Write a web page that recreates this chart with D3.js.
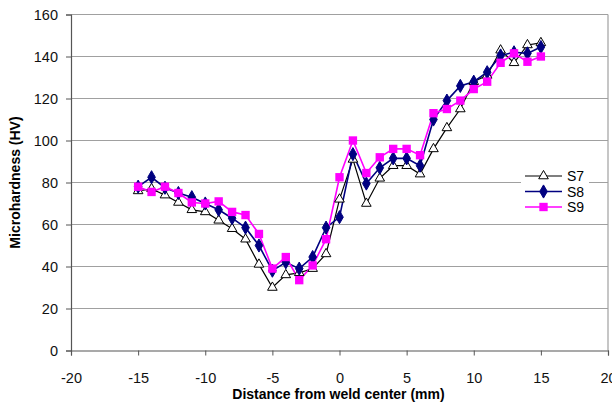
<!DOCTYPE html>
<html>
<head>
<meta charset="utf-8">
<script src="https://cdn.jsdelivr.net/npm/d3@7"></script>
<style>
  body { margin: 0; background: #fff; }
  text { font-family: "Liberation Sans", Arial, sans-serif; }
</style>
</head>
<body>
<svg id="chart" width="612" height="405"></svg>
<script>
// data
var distance = [-15,-14,-13,-12,-11,-10,-9,-8,-7,-6,-5,-4,-3,-2,-1,0,1,2,3,4,5,6,7,8,9,10,11,12,13,14,15];
var s7 = [76,77,74,70.5,67,66,62,58,53,41,30,36,37,39,46,72,91,70,82,88,88,84,96,106,115,128,131,143,137,145.5,146.5];
var s8 = [78,82.5,77.5,75,73,70,67,63,58.5,50,38,42,39,44.5,58.5,63.5,93.5,79.5,87,91.5,91.5,88,110,119,126,128,132.5,140.5,142,141.5,144.5];
var s9 = [78,75.5,78,75,70.5,70,71,66,64.5,55.5,39,44.5,33.5,40.5,53,82.5,100,84.5,92,96,96,93,113,115,119,124.5,128,137,141.5,137.5,140];
var xTicks = [-20,-15,-10,-5,0,5,10,15,20];
var yTicks = [0,20,40,60,80,100,120,140,160];
var seriesNames = ["S7","S8","S9"];

function draw(){
  var svg = d3.select("#chart");
  var left = 71, right = 608, top = 14.5, bottom = 350.5;

  var x = d3.scaleLinear().domain([-20,20]).range([left,right]);
  var y = d3.scaleLinear().domain([0,160]).range([bottom,top]);

  // gridlines
  svg.append("g").selectAll("line").data(yTicks.slice(1)).enter().append("line")
    .attr("x1", left).attr("x2", right)
    .attr("y1", function(d){ return y(d); }).attr("y2", function(d){ return y(d); })
    .attr("stroke", "#a0a0a0").attr("stroke-width", 1.2);

  // right border of plot area
  svg.append("line").attr("x1", right).attr("x2", right).attr("y1", top).attr("y2", bottom)
    .attr("stroke", "#a0a0a0").attr("stroke-width", 1.2);

  // axes (plain hyphen for negatives, like the original)
  var fmt = function(d){ return String(d); };
  var yAxis = d3.axisLeft(y).tickValues(yTicks).tickSize(5).tickPadding(8).tickFormat(fmt);
  var gy = svg.append("g").attr("transform", "translate(" + left + ",0)").call(yAxis);
  var xAxis = d3.axisBottom(x).tickValues(xTicks).tickSize(5).tickPadding(17).tickFormat(fmt);
  var gx = svg.append("g").attr("transform", "translate(0," + bottom + ")").call(xAxis);
  [gx, gy].forEach(function(g){
    g.select(".domain").attr("stroke", "#555").attr("stroke-width", 1.2);
    g.selectAll(".tick line").attr("stroke", "#555");
    g.selectAll(".tick text").attr("font-size", 14.5).attr("fill", "#111")
      .style("font-family", "'Liberation Sans', Arial, sans-serif");
  });

  // axis titles
  svg.append("text").attr("x", (left + right) / 2 - 1).attr("y", 399)
    .attr("text-anchor", "middle").attr("font-size", 14).attr("font-weight", "bold")
    .text("Distance from weld center (mm)");
  svg.append("text").attr("transform", "translate(20," + ((top + bottom) / 2) + ") rotate(-90)")
    .attr("text-anchor", "middle").attr("font-size", 14).attr("font-weight", "bold")
    .text("Microhardness (HV)");

  var line = d3.line().x(function(d){ return x(d[0]); }).y(function(d){ return y(d[1]); });
  var tri = d3.symbol().type(d3.symbolTriangle).size(40);
  var dia = d3.symbol().type(d3.symbolDiamond).size(50);
  var sq = d3.symbol().type(d3.symbolSquare).size(70);

  var series = [
    {name: seriesNames[0], vals: s7, color: "#000000", width: 1.2, sym: tri, fill: "#ffffff", stroke: "#000000"},
    {name: seriesNames[1], vals: s8, color: "#000080", width: 1.6, sym: dia, fill: "#000080", stroke: "#000080"},
    {name: seriesNames[2], vals: s9, color: "#ff00ff", width: 1.6, sym: sq, fill: "#ff00ff", stroke: "none"}
  ];

  series.forEach(function(s){
    var pts = distance.map(function(d, i){ return [d, s.vals[i]]; });
    svg.append("path").datum(pts).attr("d", line)
      .attr("fill", "none").attr("stroke", s.color).attr("stroke-width", s.width);
  });
  // markers drawn after lines, last series on top
  series.forEach(function(s){
    var pts = distance.map(function(d, i){ return [d, s.vals[i]]; });
    svg.append("g").selectAll("path").data(pts).enter().append("path")
      .attr("d", s.sym)
      .attr("transform", function(d){ return "translate(" + x(d[0]) + "," + y(d[1]) + ")"; })
      .attr("fill", s.fill).attr("stroke", s.stroke).attr("stroke-width", 1);
  });

  // legend
  var lg = svg.append("g").attr("transform", "translate(521,165)");
  lg.append("rect").attr("width", 68).attr("height", 53).attr("fill", "#fff");
  series.forEach(function(s, i){
    var yy = 11 + i * 15.5;
    lg.append("line").attr("x1", 4).attr("x2", 41).attr("y1", yy).attr("y2", yy)
      .attr("stroke", s.color).attr("stroke-width", s.width);
    lg.append("path").attr("d", s.sym).attr("transform", "translate(22.5," + yy + ")")
      .attr("fill", s.fill).attr("stroke", s.stroke).attr("stroke-width", 1);
    lg.append("text").attr("x", 46).attr("y", yy + 5).attr("font-size", 14).text(s.name);
  });
}
draw();
</script>
</body>
</html>
